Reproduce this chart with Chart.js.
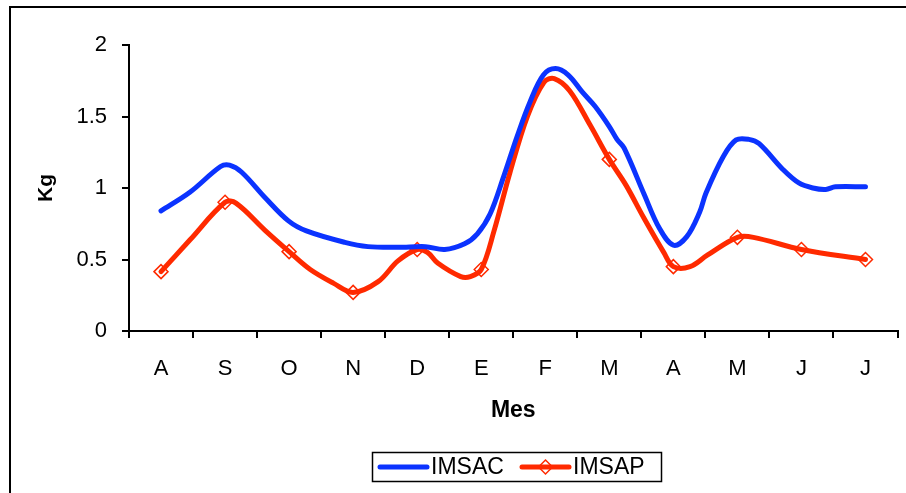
<!DOCTYPE html>
<html>
<head>
<meta charset="utf-8">
<script src="https://cdn.jsdelivr.net/npm/chart.js@4/dist/chart.umd.min.js"></script>
<style>
  html, body { margin: 0; padding: 0; background: #ffffff; }
  #wrap { width: 906px; height: 493px; position: relative; }
</style>
</head>
<body>
<div id="wrap"><canvas id="c" width="906" height="493"></canvas></div>
<script>
// ---- data ----
const months = ['A', 'S', 'O', 'N', 'D', 'E', 'F', 'M', 'A', 'M', 'J', 'J'];
const yTicks = [0, 0.5, 1, 1.5, 2];
const xAxisTitle = 'Mes';
const yAxisTitle = 'Kg';
const seriesNames = ['IMSAC', 'IMSAP'];

// position in months (0 = first A) and value (Kg)
const imsacPos = [0, 0.45, 0.93, 1.07, 1.26, 1.63, 1.99, 2.27, 2.87, 3.23, 3.7, 4.13, 4.43, 4.74, 4.94, 5.14, 5.35, 5.56, 5.76, 5.97, 6.16, 6.36, 6.58, 6.78, 7.0, 7.12, 7.23, 7.54, 7.78, 8.0, 8.21, 8.41, 8.51, 8.78, 8.98, 9.18, 9.34, 9.71, 9.96, 10.18, 10.38, 10.53, 11.0];
const imsacVal = [0.84, 0.97, 1.15, 1.16, 1.11, 0.93, 0.77, 0.70, 0.62, 0.59, 0.585, 0.59, 0.57, 0.61, 0.68, 0.82, 1.08, 1.36, 1.60, 1.79, 1.835, 1.79, 1.67, 1.57, 1.43, 1.34, 1.28, 0.96, 0.72, 0.60, 0.66, 0.83, 0.965, 1.22, 1.336, 1.34, 1.31, 1.13, 1.035, 1.0, 0.99, 1.008, 1.008];

const imsapPos = [0, 0.45, 1.0, 1.17, 1.62, 2.0, 2.33, 2.69, 3.0, 3.39, 3.70, 4.0, 4.16, 4.32, 4.68, 4.83, 5.0, 5.2, 5.45, 5.72, 5.98, 6.14, 6.38, 6.7, 7.0, 7.26, 7.54, 7.85, 8.0, 8.26, 8.53, 9.0, 9.25, 10.0, 11.0];
const imsapVal = [0.415, 0.636, 0.90, 0.894, 0.706, 0.555, 0.43, 0.335, 0.27, 0.345, 0.49, 0.57, 0.55, 0.475, 0.38, 0.38, 0.43, 0.70, 1.11, 1.50, 1.74, 1.765, 1.68, 1.44, 1.20, 1.02, 0.79, 0.55, 0.45, 0.45, 0.53, 0.655, 0.655, 0.57, 0.50];

const BLUE = '#0b33ff';
const RED = '#ff2a00';

const toPts = (xs, ys) => xs.map((x, i) => ({ x: x, y: ys[i] }));

// frame + custom legend
const framePlugin = {
  id: 'frame',
  afterDraw(chart) {
    const ctx = chart.ctx;
    ctx.save();
    ctx.fillStyle = '#000';
    ctx.fillRect(9, 6, 2, 493);
    ctx.fillRect(9, 6, 906, 2);

    // legend box
    const bx = 372.5, by = 452.5, bw = 289, bh = 29;
    ctx.strokeStyle = '#000';
    ctx.lineWidth = 1.5;
    ctx.strokeRect(bx, by, bw, bh);
    const cy = by + bh / 2;
    ctx.lineCap = 'round';
    ctx.lineWidth = 5;
    ctx.strokeStyle = BLUE;
    ctx.beginPath(); ctx.moveTo(380, cy); ctx.lineTo(427, cy); ctx.stroke();
    ctx.strokeStyle = RED;
    ctx.beginPath(); ctx.moveTo(522, cy); ctx.lineTo(569, cy); ctx.stroke();
    // diamond marker
    ctx.lineWidth = 1.5;
    ctx.beginPath();
    const mx = 545.5, r = 7;
    ctx.moveTo(mx, cy - r); ctx.lineTo(mx + r, cy); ctx.lineTo(mx, cy + r); ctx.lineTo(mx - r, cy); ctx.closePath();
    ctx.stroke();
    ctx.fillStyle = '#000';
    ctx.font = '23px "Liberation Sans", Arial, sans-serif';
    ctx.textBaseline = 'middle';
    ctx.textAlign = 'left';
    ctx.fillText(seriesNames[0], 431, cy + 1);
    ctx.fillText(seriesNames[1], 573, cy + 1);
    ctx.restore();
  }
};

const tickFont = { family: '"Liberation Sans", Arial, sans-serif', size: 22 };
const xTitleFont = { family: '"Liberation Sans", Arial, sans-serif', size: 23, weight: 'bold' };
const yTitleFont = { family: '"Liberation Sans", Arial, sans-serif', size: 21, weight: 'bold' };

new Chart(document.getElementById('c'), {
  type: 'line',
  data: {
    labels: months,
    datasets: [
      {
        label: seriesNames[0],
        data: toPts(imsacPos, imsacVal),
        xAxisID: 'xl',
        borderColor: BLUE,
        borderWidth: 5,
        borderCapStyle: 'round',
        borderJoinStyle: 'round',
        pointRadius: 0,
        tension: 0.35,
        fill: false
      },
      {
        label: seriesNames[1],
        data: toPts(imsapPos, imsapVal),
        xAxisID: 'xl',
        borderColor: RED,
        borderWidth: 5,
        borderCapStyle: 'round',
        borderJoinStyle: 'round',
        pointStyle: 'rectRot',
        pointRadius: (c) => (c.raw && Number.isInteger(c.raw.x)) ? 7 : 0,
        pointBorderColor: RED,
        pointBackgroundColor: 'rgba(255,255,255,0)',
        pointBorderWidth: 1.5,
        tension: 0.35,
        fill: false
      }
    ]
  },
  options: {
    responsive: false,
    animation: false,
    events: [],
    layout: { padding: { left: 0, right: 4, top: 45, bottom: 0 } },
    plugins: {
      legend: { display: false },
      tooltip: { enabled: false }
    },
    scales: {
      x: {
        type: 'category',
        position: 'bottom',
        offset: true,
        border: { display: true, color: '#000', width: 2 },
        grid: { offset: true, drawOnChartArea: false, drawTicks: true, tickLength: 7, color: '#000', lineWidth: 2 },
        ticks: { color: '#000', font: tickFont, padding: 18, maxRotation: 0, autoSkip: false },
        title: { display: true, text: xAxisTitle, color: '#000', font: xTitleFont, padding: { top: 0, bottom: 69 } },
        afterFit: (s) => { s.height = 162; }
      },
      xl: {
        type: 'linear',
        display: false,
        min: -0.5,
        max: 11.5
      },
      y: {
        type: 'linear',
        min: 0,
        max: 2,
        afterBuildTicks: (s) => { s.ticks = yTicks.map(v => ({ value: v })); },
        border: { display: true, color: '#000', width: 2 },
        grid: { drawOnChartArea: false, drawTicks: true, tickLength: 7, color: '#000', lineWidth: 2 },
        ticks: { color: '#000', font: tickFont, padding: 15, callback: (v) => String(v) },
        title: { display: true, text: yAxisTitle, color: '#000', font: yTitleFont, padding: { top: 34, bottom: 0 } },
        afterFit: (s) => { s.width = 129; }
      }
    }
  },
  plugins: [framePlugin]
});
</script>
</body>
</html>
